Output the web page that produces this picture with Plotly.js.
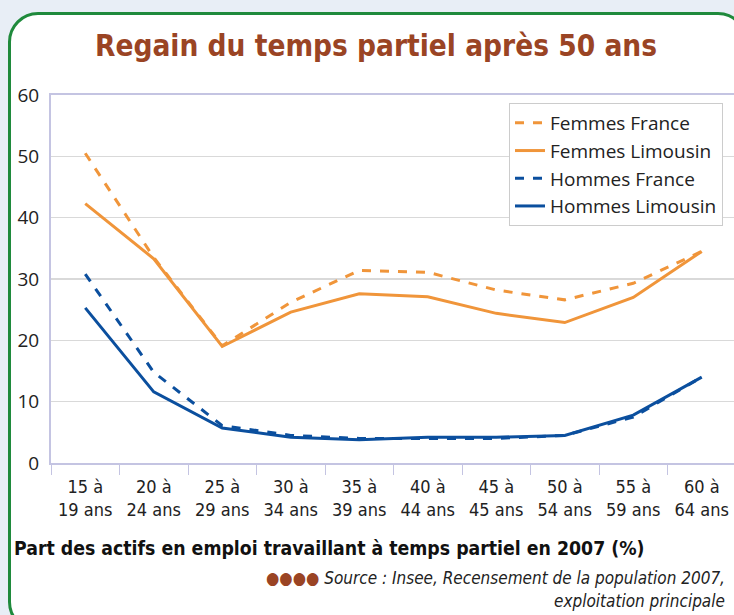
<!DOCTYPE html>
<html>
<head>
<meta charset="utf-8">
<script src="https://cdn.plot.ly/plotly-3.0.1.min.js"></script>
<style>
  html, body { margin:0; padding:0; width:734px; height:615px; overflow:hidden; background:#e8eef6; }
  #frame { position:absolute; left:8px; top:12px; width:740px; height:620px; box-sizing:border-box;
           border:3px solid #1f8a3c; border-radius:30px; background:#ffffff; }
  #chart { position:absolute; left:0; top:0; width:740px; height:615px; }
</style>
</head>
<body>
<div id="frame"></div>
<div id="chart"></div>
<script>
const categories = ["15 à<br>19 ans","20 à<br>24 ans","25 à<br>29 ans","30 à<br>34 ans","35 à<br>39 ans",
                    "40 à<br>44 ans","45 à<br>45 ans","50 à<br>54 ans","55 à<br>59 ans","60 à<br>64 ans"];
const femmesFrance   = [50.5, 33.5, 19.1, 26.2, 31.4, 31.1, 28.2, 26.6, 29.3, 34.5];
const femmesLimousin = [42.3, 33.3, 19.0, 24.6, 27.6, 27.1, 24.4, 22.9, 27.0, 34.5];
const hommesFrance   = [30.8, 14.8, 6.1, 4.5, 4.0, 4.0, 4.0, 4.5, 7.5, 14.0];
const hommesLimousin = [25.3, 11.6, 5.7, 4.2, 3.8, 4.2, 4.2, 4.5, 7.8, 14.0];
const yTicks = [0, 10, 20, 30, 40, 50, 60];

const orange = "#f0953a", blue = "#0b4f9e";
const mk = (name, y, color, dash) => ({
  type: "scatter", mode: "lines", name: name, x: categories, y: y,
  line: { color: color, width: 3, dash: dash }, hoverinfo: "skip"
});
const data = [
  mk("Femmes France", femmesFrance, orange, "dash"),
  mk("Femmes Limousin", femmesLimousin, orange, "solid"),
  mk("Hommes France", hommesFrance, blue, "dash"),
  mk("Hommes Limousin", hommesLimousin, blue, "solid")
];

const txtFont = "Lucida Grande, Open Sans, DejaVu Sans, sans-serif";
const narrow = "Liberation Sans Narrow, Arial Narrow, DejaVu Sans Condensed, sans-serif";

const layout = {
  width: 740, height: 615,
  paper_bgcolor: "rgba(0,0,0,0)", plot_bgcolor: "rgba(0,0,0,0)",
  margin: { l: 51, r: 4, t: 95, b: 152 },
  showlegend: true,
  title: {
    text: "<b>Regain du temps partiel après 50 ans</b>",
    font: { family: narrow, size: 29.5, color: "#9a4424" },
    x: 376/740, xref: "container", xanchor: "center",
    y: 1 - 46/615, yref: "container", yanchor: "middle"
  },
  xaxis: {
    type: "category", tickson: "boundaries", ticks: "outside", ticklen: 10, tickcolor: "#c4c4e2",
    showline: true, linecolor: "#c4c4e2", linewidth: 2, mirror: true,
    showgrid: false, zeroline: false, fixedrange: true, ticklabelstandoff: 6,
    tickfont: { family: narrow, size: 18, color: "#222" },
    range: [-0.5, 9.5]
  },
  yaxis: {
    range: [0, 60], tickvals: yTicks, ticks: "", showline: true, linecolor: "#c4c4e2", linewidth: 2,
    showgrid: true, gridcolor: "#d9d9d9", gridwidth: 1.5, zeroline: false, fixedrange: true,
    tickfont: { family: txtFont, size: 19, color: "#222" }, ticklabelstandoff: 6
  },
  legend: {
    x: (723-51)/685, xanchor: "right", y: (463-103)/368, yanchor: "top",
    bgcolor: "#ffffff", bordercolor: "#cccccc", borderwidth: 1,
    font: { family: txtFont, size: 19, color: "#222" },
    tracegroupgap: 0, itemwidth: 30
  },
  annotations: [
    { text: "<b>Part des actifs en emploi travaillant à temps partiel en 2007 (%)</b>",
      xref: "paper", yref: "paper", x: (12-51)/685, y: (463-548)/368, xanchor: "left", yanchor: "middle",
      showarrow: false, font: { family: narrow, size: 19.3, color: "#111" } },
    { text: "<span style='color:#9a4424'>●●●●</span> <i>Source : Insee, Recensement de la population 2007,</i>",
      xref: "paper", yref: "paper", x: (727-51)/685, y: (463-578)/368, xanchor: "right", yanchor: "middle",
      showarrow: false, font: { family: narrow, size: 17, color: "#222" } },
    { text: "<i>exploitation principale</i>",
      xref: "paper", yref: "paper", x: (727-51)/685, y: (463-601)/368, xanchor: "right", yanchor: "middle",
      showarrow: false, font: { family: narrow, size: 17, color: "#222" } }
  ]
};
Plotly.newPlot("chart", data, layout, { displayModeBar: false, staticPlot: true });
</script>
</body>
</html>
